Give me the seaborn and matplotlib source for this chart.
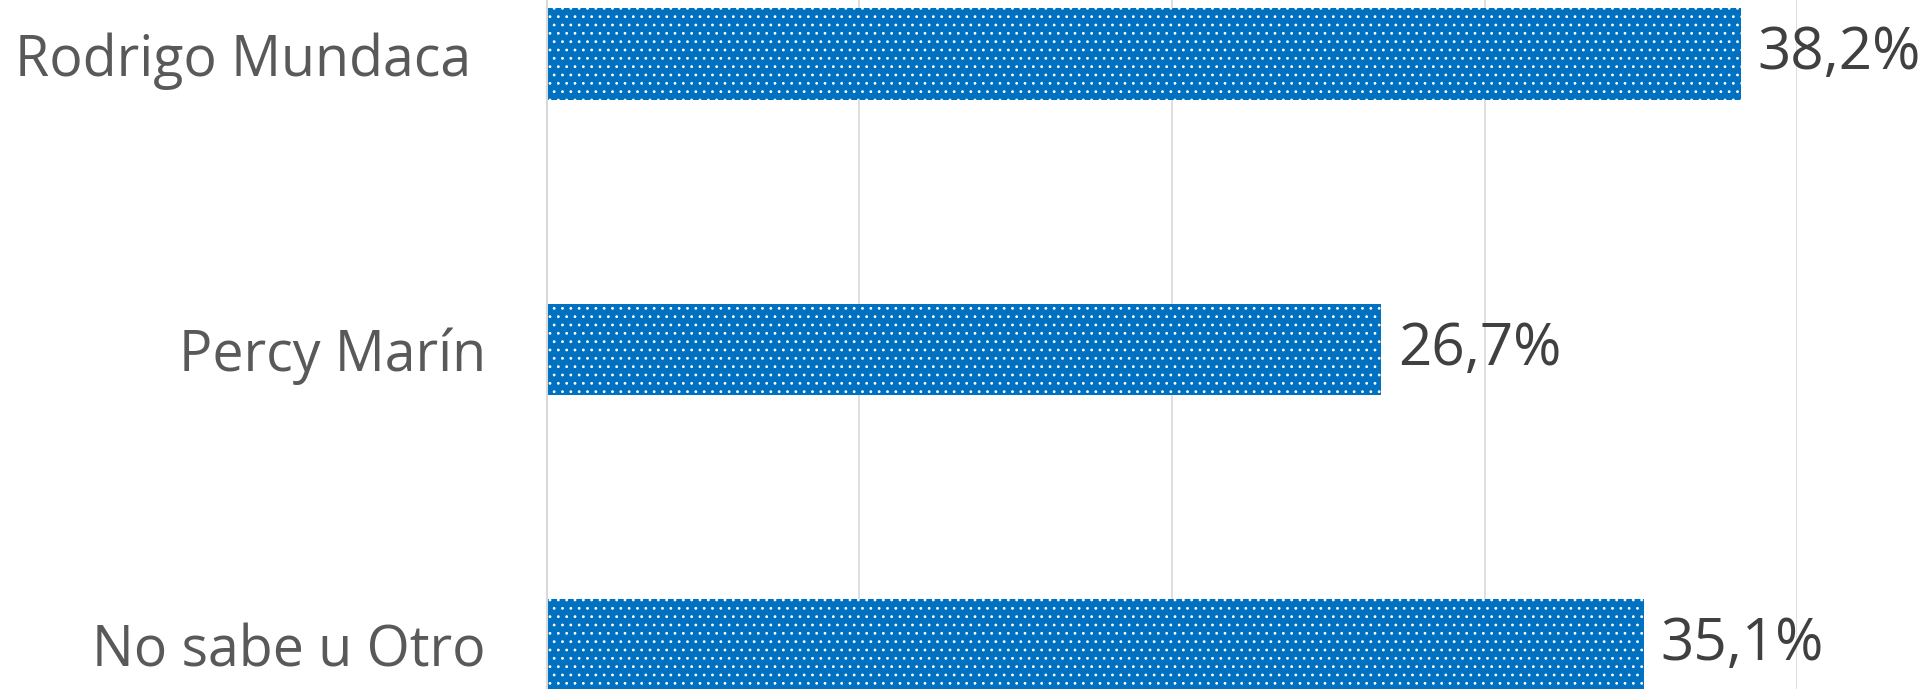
import matplotlib
matplotlib.use("Agg")
import matplotlib.pyplot as plt
import seaborn as sns
import pandas as pd

# data
candidates = ["Rodrigo Mundaca ", "Percy Marín", "No sabe u Otro"]
percentages = [38.2, 26.7, 35.1]
value_labels = ["38,2%", "26,7%", "35,1%"]

sns.set_style("white")
plt.rcParams["font.family"] = ["Open Sans", "DejaVu Sans"]
plt.rcParams["hatch.color"] = "white"
plt.rcParams["hatch.linewidth"] = 0.8

df = pd.DataFrame({"candidato": candidates, "pct": percentages})

fig = plt.figure(figsize=(19.24, 6.89), dpi=100)
ax = fig.add_axes([547 / 1924, 0, 1250 / 1924, 1])

sns.barplot(data=df, x="pct", y="candidato", orient="h", color="#0070C0",
            saturation=1, width=0.31, ax=ax)
for p in ax.patches:
    p.set_hatch("..")
    p.set_edgecolor("white")
    p.set_linewidth(0)

ax.set_xlim(0, 40)
ax.set_ylim(2.149, -0.183)
ax.set_xticks([10, 20, 30, 40])
ax.xaxis.grid(True, color="#d9d9d9", linewidth=1.2)
ax.set_axisbelow(True)
ax.tick_params(axis="x", length=0, labelbottom=False)
ax.tick_params(axis="y", which="major", length=0, pad=44, labelsize=40, labelcolor="#595959")
ax.set_yticks([0.5, 1.5], minor=True)
ax.tick_params(axis="y", which="minor", length=14, width=1.2, color="#d9d9d9")
ax.set_xlabel("")
ax.set_ylabel("")

for s in ["top", "right", "bottom"]:
    ax.spines[s].set_visible(False)
ax.spines["left"].set_color("#d9d9d9")
ax.spines["left"].set_linewidth(1.5)

ax.bar_label(ax.containers[0], labels=value_labels, padding=12, fontsize=42,
             color="#404040", clip_on=False)

fig.savefig("out.png", dpi=100)
